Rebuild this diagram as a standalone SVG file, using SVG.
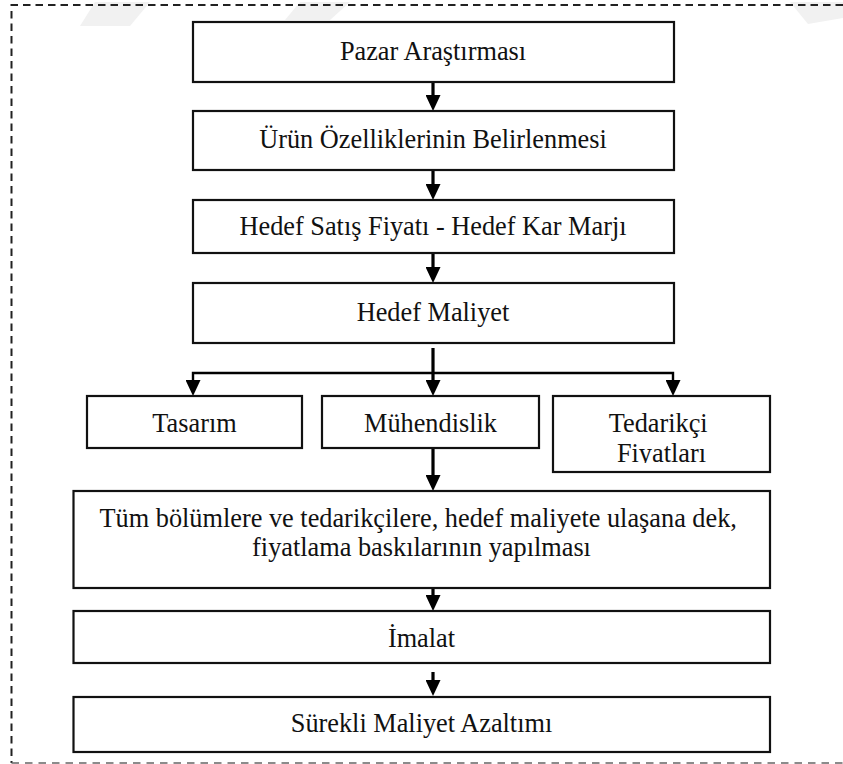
<svg xmlns="http://www.w3.org/2000/svg" width="843" height="764" viewBox="0 0 843 764">
  <defs>
    <style>
      .box { fill: #ffffff; stroke: #111111; stroke-width: 2.2; }
      .lbl { font-family: "Liberation Serif", "Times New Roman", serif; font-size: 26.3px; fill: #111111; text-anchor: middle; }
      .shaft { fill: none; stroke: #000000; stroke-width: 3.2; }
      .bus { fill: none; stroke: #000000; stroke-width: 2.4; }
      .frame { fill: none; stroke: #222222; stroke-width: 2; stroke-dasharray: 7.5 5; }
      .frame-b { fill: none; stroke: #666666; stroke-width: 1.5; stroke-dasharray: 7.5 6; }
      .haze { fill: #f1f1f1; }
    </style>
    <marker id="head" markerUnits="userSpaceOnUse" viewBox="0 0 16 15" markerWidth="16" markerHeight="15" refX="8" refY="7.5" orient="auto">
      <path d="M0,0 L16,7.5 L0,15 z" fill="#000000"/>
    </marker>
    <clipPath id="clip-tedarik">
      <rect x="553" y="396" width="217" height="67"/>
    </clipPath>
  </defs>

  <!-- faint background marks along the top edge -->
  <g id="background">
    <polygon class="haze" points="95,2 150,2 130,26 80,26"/>
    <polygon class="haze" points="300,2 350,2 330,20 285,20"/>
    <polygon class="haze" points="790,2 843,2 843,18 808,24"/>
  </g>

  <!-- dashed outer frame -->
  <g id="frame">
    <path class="frame" d="M843,5 H11.5 V763"/>
    <path class="frame-b" d="M11.5,763 H843"/>
  </g>

  <g id="connectors">
    <line class="shaft" x1="433" y1="82" x2="433" y2="103" marker-end="url(#head)"/>
    <line class="shaft" x1="433" y1="170" x2="433" y2="192" marker-end="url(#head)"/>
    <line class="shaft" x1="433" y1="253" x2="433" y2="275" marker-end="url(#head)"/>
    <line class="shaft" x1="433" y1="348" x2="433" y2="388" marker-end="url(#head)"/>
    <path class="bus" d="M433,373 H193 V388" marker-end="url(#head)"/>
    <path class="bus" d="M433,373 H673 V388" marker-end="url(#head)"/>
    <line class="shaft" x1="433" y1="448" x2="433" y2="483" marker-end="url(#head)"/>
    <line class="shaft" x1="433" y1="588" x2="433" y2="603" marker-end="url(#head)"/>
    <line class="shaft" x1="433" y1="672" x2="433" y2="688" marker-end="url(#head)"/>
  </g>

  <g id="pazar">
    <rect class="box" x="193" y="22" width="481" height="60"/>
    <text class="lbl" x="433" y="60">Pazar Araştırması</text>
  </g>

  <g id="urun">
    <rect class="box" x="193" y="111" width="481" height="59"/>
    <text class="lbl" x="433" y="147.5">Ürün Özelliklerinin Belirlenmesi</text>
  </g>

  <g id="hedef-fiyat">
    <rect class="box" x="193" y="200" width="481" height="53"/>
    <text class="lbl" x="433" y="234.5">Hedef Satış Fiyatı - Hedef Kar Marjı</text>
  </g>

  <g id="hedef-maliyet">
    <rect class="box" x="193" y="283" width="481" height="60"/>
    <text class="lbl" x="433" y="321">Hedef Maliyet</text>
  </g>

  <g id="tasarim">
    <rect class="box" x="87" y="396" width="215" height="52"/>
    <text class="lbl" x="194.5" y="431.7">Tasarım</text>
  </g>

  <g id="muhendislik">
    <rect class="box" x="322" y="396" width="217" height="52"/>
    <text class="lbl" x="430.5" y="431.7">Mühendislik</text>
  </g>

  <g id="tedarikci">
    <rect class="box" x="553" y="396" width="217" height="76"/>
    <text class="lbl" clip-path="url(#clip-tedarik)">
      <tspan x="661.5" y="431.7">Tedarikçi</tspan>
      <tspan x="661.5" y="461.7">Fiyatları</tspan>
    </text>
  </g>

  <g id="baski">
    <rect class="box" x="73.5" y="491" width="696.5" height="97"/>
    <text class="lbl">
      <tspan x="421.5" y="527">Tüm bölümlere ve tedarikçilere, hedef maliyete ulaşana dek,</tspan>
      <tspan x="421.5" y="556">fiyatlama baskılarının yapılması</tspan>
    </text>
  </g>

  <g id="imalat">
    <rect class="box" x="73.5" y="611" width="696.5" height="52"/>
    <text class="lbl" x="421.5" y="646.7">İmalat</text>
  </g>

  <g id="surekli">
    <rect class="box" x="73.5" y="697" width="696.5" height="55"/>
    <text class="lbl" x="421.5" y="731.7">Sürekli Maliyet Azaltımı</text>
  </g>
</svg>
